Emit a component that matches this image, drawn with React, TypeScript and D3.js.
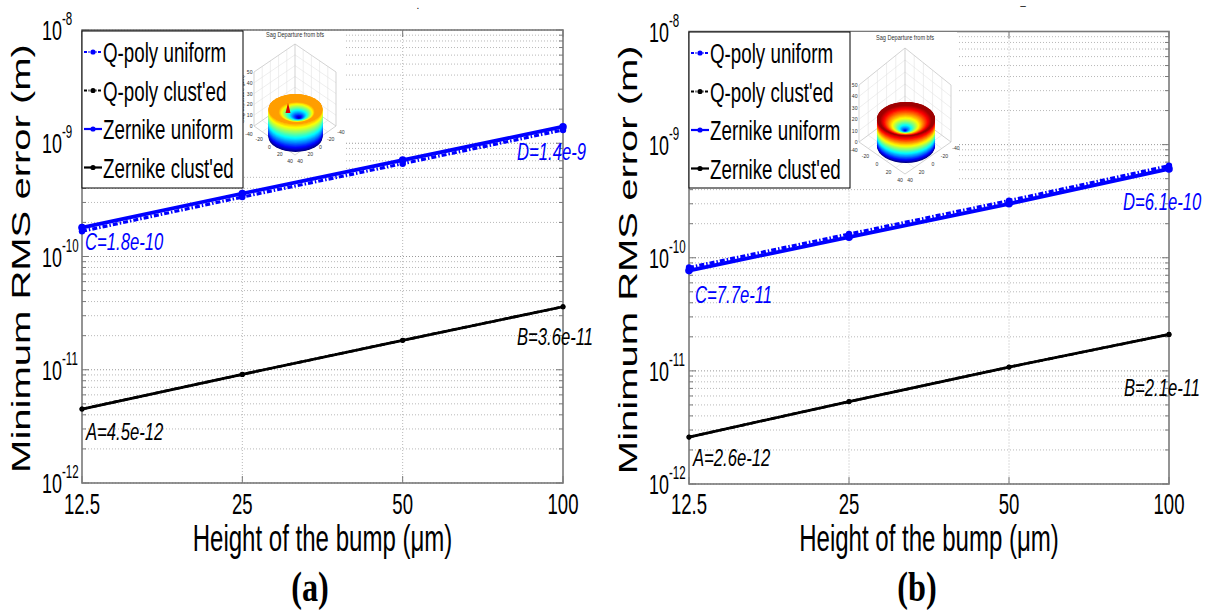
import React from "react";
import * as d3 from "d3";

// ---------------- data ----------------
const heightsUm = [12.5, 25, 50, 100];
const xTickValues = [12.5, 25, 50, 100];
const xTickLabels = ["12.5", "25", "50", "100"];
const yDecadeExponents = [-12, -11, -10, -9, -8];
const seriesNames = ["Q-poly uniform", "Q-poly clust'ed", "Zernike uniform", "Zernike clust'ed"];

// panel (a)
const qpolyUniformA = [1.67e-10, 3.35e-10, 6.6e-10, 1.31e-9];
const qpolyClustA = [4.5e-12, 9.1e-12, 1.82e-11, 3.6e-11];
const zernikeUniformA = [1.8e-10, 3.6e-10, 7.1e-10, 1.4e-9];
const zernikeClustA = [4.5e-12, 9.1e-12, 1.82e-11, 3.6e-11];
const annotationsA = ["A=4.5e-12", "B=3.6e-11", "C=1.8e-10", "D=1.4e-9"];

// panel (b)
const qpolyUniformB = [8.2e-11, 1.62e-10, 3.2e-10, 6.5e-10];
const qpolyClustB = [2.6e-12, 5.35e-12, 1.08e-11, 2.1e-11];
const zernikeUniformB = [7.7e-11, 1.52e-10, 3.0e-10, 6.1e-10];
const zernikeClustB = [2.6e-12, 5.35e-12, 1.08e-11, 2.1e-11];
const annotationsB = ["A=2.6e-12", "B=2.1e-11", "C=7.7e-11", "D=6.1e-10"];

const xAxisTitle = "Height of the bump (μm)";
const yAxisTitle = "Minimum RMS error (m)";
const insetTitle = "Sag Departure from bfs";
const insetZLabel = "Sag departure (μm)";
const insetZTicks = ["50", "40", "30", "20", "10", "0"];
const insetLeftTicks = ["-40", "-20", "0", "20", "40"];
const insetRightTicks = ["40", "20", "0", "-20", "-40"];

// ---------------- styles ----------------
const SANS = "'Liberation Sans', Arial, sans-serif";
const SERIF = "'Liberation Serif', 'Times New Roman', serif";
const SX = 0.66;
const BLUE = "#0000ff";

const seriesStyles = [
  { color: BLUE, width: 3.2, dash: "5,2,1.5,2", r: 3.2 },
  { color: "#000", width: 2.6, dash: "5,2,1.5,2", r: 2.4 },
  { color: BLUE, width: 3.8, dash: null, r: 3.8 },
  { color: "#000", width: 2.8, dash: null, r: 2.6 },
];

function jet(v: number) {
  const c = (t: number) => Math.max(0, Math.min(1, t));
  const r = c(1.5 - Math.abs(4 * v - 3));
  const g = c(1.5 - Math.abs(4 * v - 2));
  const b = c(1.5 - Math.abs(4 * v - 1));
  return d3.rgb(r * 255, g * 255, b * 255).toString();
}

function CT(props: any) {
  const { x, y, sx = SX, size, anchor = "start", fill = "#000", italic = false, weight = "normal", family = SANS, children } = props;
  return (
    <text
      transform={`translate(${x},${y}) scale(${sx},1)`}
      fontSize={size}
      textAnchor={anchor}
      fill={fill}
      fontStyle={italic ? "italic" : "normal"}
      fontWeight={weight}
      fontFamily={family}
    >
      {children}
    </text>
  );
}

function Inset({ g }: any) {
  const { bx0, by0, bx1, by1, cx, top, halfW, sideTop, sideBot, backY, botY, titleY } = g;
  const lerp = (a: number[], b: number[], t: number) => [a[0] + (b[0] - a[0]) * t, a[1] + (b[1] - a[1]) * t];
  const pTop = [cx, top], pBack = [cx, backY];
  const pLT = [cx - halfW, sideTop], pLB = [cx - halfW, sideBot];
  const pRT = [cx + halfW, sideTop], pRB = [cx + halfW, sideBot];
  const pFront = [cx, botY];
  const gridLines: number[][][] = [];
  const fr = [0.2, 0.4, 0.6, 0.8];
  fr.forEach((f) => {
    gridLines.push([lerp(pTop, pBack, f), lerp(pLT, pLB, f)]);
    gridLines.push([lerp(pTop, pBack, f), lerp(pRT, pRB, f)]);
    gridLines.push([lerp(pTop, pLT, f), lerp(pBack, pLB, f)]);
    gridLines.push([lerp(pTop, pRT, f), lerp(pBack, pRB, f)]);
    gridLines.push([lerp(pLB, pBack, f), lerp(pFront, pRB, f)]);
    gridLines.push([lerp(pBack, pRB, f), lerp(pLB, pFront, f)]);
  });
  const outline = [pTop, pLT, pLB, pFront, pRB, pRT, pTop];
  const inner = [[pTop, pBack], [pLB, pBack], [pRB, pBack]];

  const { scx, rimCy, rx, ry, bodyH, holeCx, holeCy, holeFrac, topVal, bowlPow } = g;
  const N = 40;
  const body = d3.range(N + 1).map((i) => {
    const t = i / N;
    return { cy: rimCy + bodyH * (1 - t), col: jet(topVal * Math.pow(t, 0.9)) };
  });
  const M = 50;
  const bowl = d3.range(M + 1).map((j) => {
    const s = 1 - j / M;
    const cxx = holeCx + (scx - holeCx) * s;
    const cyy = holeCy + (rimCy - holeCy) * s;
    let v = topVal;
    if (s < holeFrac) v = topVal * Math.pow(s / holeFrac, bowlPow);
    return { cx: cxx, cy: cyy, rx: rx * s, ry: ry * s, col: jet(v) };
  });
  const line = d3.line();
  return (
    <g>
      <rect x={bx0} y={by0} width={bx1 - bx0} height={by1 - by0} fill="#fff" />
      <CT x={cx} y={titleY} size={7} sx={0.8} anchor="middle" fill="#333">{insetTitle}</CT>
      {gridLines.map((l, i) => (
        <path key={i} d={line(l as any) || ""} stroke="#e2e2e2" strokeWidth={0.6} fill="none" />
      ))}
      <path d={line(outline as any) || ""} stroke="#c8c8c8" strokeWidth={0.8} fill="none" />
      {inner.map((l, i) => (
        <path key={"i" + i} d={line(l as any) || ""} stroke="#c8c8c8" strokeWidth={0.8} fill="none" />
      ))}
      {body.map((b, i) => (
        <ellipse key={"b" + i} cx={scx} cy={b.cy} rx={rx} ry={ry} fill={b.col} />
      ))}
      {bowl.map((b, i) => (
        <ellipse key={"w" + i} cx={b.cx} cy={b.cy} rx={b.rx} ry={b.ry} fill={b.col} />
      ))}
      {g.spike && <path d={`M${g.spike[0]},${g.spike[1]}L${g.spike[0] - 2.5},${g.spike[1] + 10}L${g.spike[0] + 2.5},${g.spike[1] + 10}Z`} fill="#e00000" />}
      {insetZTicks.map((t, i) => (
        <CT key={"z" + i} x={cx - halfW - 1.5} y={sideTop + ((sideBot - sideTop) * i) / (insetZTicks.length - 1) + 2}
          size={6} sx={0.85} anchor="end" fill="#333">{t}</CT>
      ))}
      <text transform={`translate(${cx - halfW - 10},${(sideTop + sideBot) / 2}) rotate(-90)`} fontSize={5.5}
        textAnchor="middle" fill="#444" fontFamily={SANS}>{insetZLabel}</text>
      {insetLeftTicks.map((t, i) => {
        const p = lerp(pLB, pFront, i / 4);
        return <CT key={"l" + i} x={p[0] - 5} y={p[1] + 8 + (i === 0 ? 2 : 0)} size={6} sx={0.85} anchor="middle" fill="#333">{t}</CT>;
      })}
      {insetRightTicks.map((t, i) => {
        const p = lerp(pFront, pRB, i / 4);
        return <CT key={"r" + i} x={p[0] + 5} y={p[1] + 8} size={6} sx={0.85} anchor="middle" fill="#333">{t}</CT>;
      })}
    </g>
  );
}

function Panel({ cfg, series, notes }: any) {
  const { left, right, top, bottom } = cfg;
  const x = d3.scaleLog().domain([12.5, 100]).range([left, right]);
  const y = d3.scaleLog().domain([1e-12, 1e-8]).range([bottom, top]);
  const minor: number[] = [];
  for (let e = -12; e < -8; e++) for (let k = 2; k <= 9; k++) minor.push(k * Math.pow(10, e));
  const major = yDecadeExponents.map((e) => Math.pow(10, e));
  const line = d3.line<number>().x((_, i) => x(heightsUm[i])).y((d) => y(d));
  const gridColor = "#b8b8b8";
  const axisColor = "#7a7a7a";
  const leg = cfg.legend;
  const noteColors = ["#000", "#000", BLUE, BLUE];
  const notePts = [
    [heightsUm[0], series[3][0]],
    [heightsUm[3], series[3][3]],
    [heightsUm[0], series[2][0]],
    [heightsUm[3], series[2][3]],
  ];
  return (
    <g>
      {minor.map((v, i) => (
        <line key={"m" + i} x1={left} x2={right} y1={y(v)} y2={y(v)} stroke={gridColor} strokeWidth={1} strokeDasharray="1,2" />
      ))}
      {major.map((v, i) => (
        <line key={"M" + i} x1={left} x2={right} y1={y(v)} y2={y(v)} stroke="#999" strokeWidth={1} strokeDasharray="1,2" />
      ))}
      {xTickValues.slice(1, 3).map((v, i) => (
        <line key={"vx" + i} x1={x(v)} x2={x(v)} y1={top} y2={bottom} stroke={gridColor} strokeWidth={1} strokeDasharray="1,2" />
      ))}
      {minor.map((v, i) => (
        <g key={"mt" + i}>
          <line x1={left} x2={left + 4} y1={y(v)} y2={y(v)} stroke={axisColor} strokeWidth={1} />
          <line x1={right} x2={right - 4} y1={y(v)} y2={y(v)} stroke={axisColor} strokeWidth={1} />
        </g>
      ))}
      {major.map((v, i) => (
        <g key={"Mt" + i}>
          <line x1={left} x2={left + 7} y1={y(v)} y2={y(v)} stroke={axisColor} strokeWidth={1} />
          <line x1={right} x2={right - 7} y1={y(v)} y2={y(v)} stroke={axisColor} strokeWidth={1} />
        </g>
      ))}
      {xTickValues.map((v, i) => (
        <g key={"xt" + i}>
          <line x1={x(v)} x2={x(v)} y1={bottom} y2={bottom - 7} stroke={axisColor} strokeWidth={1} />
          <line x1={x(v)} x2={x(v)} y1={top} y2={top + 7} stroke={axisColor} strokeWidth={1} />
        </g>
      ))}
      <rect x={left} y={top} width={right - left} height={bottom - top} fill="none" stroke={axisColor} strokeWidth={1.6} />
      <Inset g={cfg.inset} />
      {series.map((s: number[], k: number) => {
        const st = seriesStyles[k];
        return (
          <g key={"s" + k}>
            <path d={line(s) || ""} fill="none" stroke={st.color} strokeWidth={st.width} strokeDasharray={st.dash || undefined} />
            {s.map((v, i) => (
              <circle key={i} cx={x(heightsUm[i])} cy={y(v)} r={st.r} fill={st.color} />
            ))}
          </g>
        );
      })}
      <rect x={left} y={leg.y0} width={leg.w} height={leg.h} fill="#fff" stroke="#000" strokeWidth={1} />
      {seriesNames.map((n, k) => {
        const st = seriesStyles[k];
        const cy = leg.y0 + leg.first + k * leg.step;
        return (
          <g key={"lg" + k}>
            <line x1={left + 2} x2={left + 20} y1={cy} y2={cy} stroke={st.color} strokeWidth={k >= 2 ? 2.2 : 1.8}
              strokeDasharray={st.dash ? "3,1.5,1,1.5" : undefined} />
            <circle cx={left + 11} cy={cy} r={2.6} fill={st.color} />
            <CT x={left + 21} y={cy + 10} size={28} sx={0.67}>{n}</CT>
          </g>
        );
      })}
      {notes.map((t: string, i: number) => (
        <CT key={"n" + i} x={cfg.notePos[i][0]} y={y(notePts[i][1]) + cfg.notePos[i][1]} size={24.5} sx={0.68} italic fill={noteColors[i]}>{t}</CT>
      ))}
      {yDecadeExponents.map((e, i) => (
        <g key={"yl" + i}>
          <CT x={left - 20} y={y(Math.pow(10, e)) + 10} size={28} sx={0.64} anchor="end">10</CT>
          <CT x={left - 20} y={y(Math.pow(10, e)) - 5} size={18} sx={0.64}>{String(e)}</CT>
        </g>
      ))}
      {xTickValues.map((v, i) => (
        <CT key={"xl" + i} x={x(v)} y={514} size={29} sx={0.64} anchor="middle">{xTickLabels[i]}</CT>
      ))}
      <CT x={(left + right) / 2} y={551} size={37} sx={0.65} anchor="middle">{xAxisTitle}</CT>
      <text transform={`translate(${left - 52},${(top + bottom) / 2 + 2}) scale(0.64,1) rotate(-90)`} fontSize={40}
        textAnchor="middle" fontFamily={SANS} fill="#000">{yAxisTitle}</text>
      <CT x={cfg.panelLabelX} y={601} size={43} sx={0.75} anchor="middle" weight="bold" family={SERIF}>{cfg.panelLabel}</CT>
      <CT x={cfg.markX} y={9} size={10} sx={1} anchor="middle">{cfg.mark}</CT>
    </g>
  );
}

const cfgA = {
  left: 82, right: 563, top: 30, bottom: 483,
  legend: { y0: 31, w: 161, h: 157, first: 21, step: 38.5 },
  notePos: [[86, 31], [517, 38], [85, 22], [517, 33]],
  panelLabel: "(a)", panelLabelX: 310, mark: ".", markX: 418,
  inset: {
    bx0: 243.5, by0: 31, bx1: 345, by1: 170, cx: 295, titleY: 37, top: 44, halfW: 41,
    sideTop: 72, sideBot: 126, backY: 98, botY: 155,
    scx: 295.5, rimCy: 109, rx: 27, ry: 15, bodyH: 28, holeCx: 299, holeCy: 118, holeFrac: 0.68, topVal: 0.72, bowlPow: 0.9,
    spike: [288, 103],
  },
};
const cfgB = {
  left: 689, right: 1169, top: 31.5, bottom: 484,
  legend: { y0: 32, w: 161, h: 156, first: 21, step: 38.5 },
  notePos: [[693, 29], [1124, 62], [695, 32], [1123, 41]],
  panelLabel: "(b)", panelLabelX: 917, mark: "\u2013", markX: 1023,
  inset: {
    bx0: 850, by0: 32, bx1: 957, by1: 185, cx: 905, titleY: 40, top: 48, halfW: 46,
    sideTop: 85, sideBot: 142, backY: 108, botY: 174,
    scx: 906, rimCy: 119, rx: 29, ry: 17, bodyH: 27, holeCx: 905, holeCy: 131, holeFrac: 0.9, topVal: 0.97, bowlPow: 0.65,
    spike: null,
  },
};

export default function App() {
  return (
    <svg width={1210} height={613} viewBox="0 0 1210 613" style={{ position: "absolute", left: 0, top: 0, background: "#fff" }}>
      <rect x={0} y={0} width={1210} height={613} fill="#fff" />
      <Panel cfg={cfgA} series={[qpolyUniformA, qpolyClustA, zernikeUniformA, zernikeClustA]} notes={annotationsA} />
      <Panel cfg={cfgB} series={[qpolyUniformB, qpolyClustB, zernikeUniformB, zernikeClustB]} notes={annotationsB} />
    </svg>
  );
}
